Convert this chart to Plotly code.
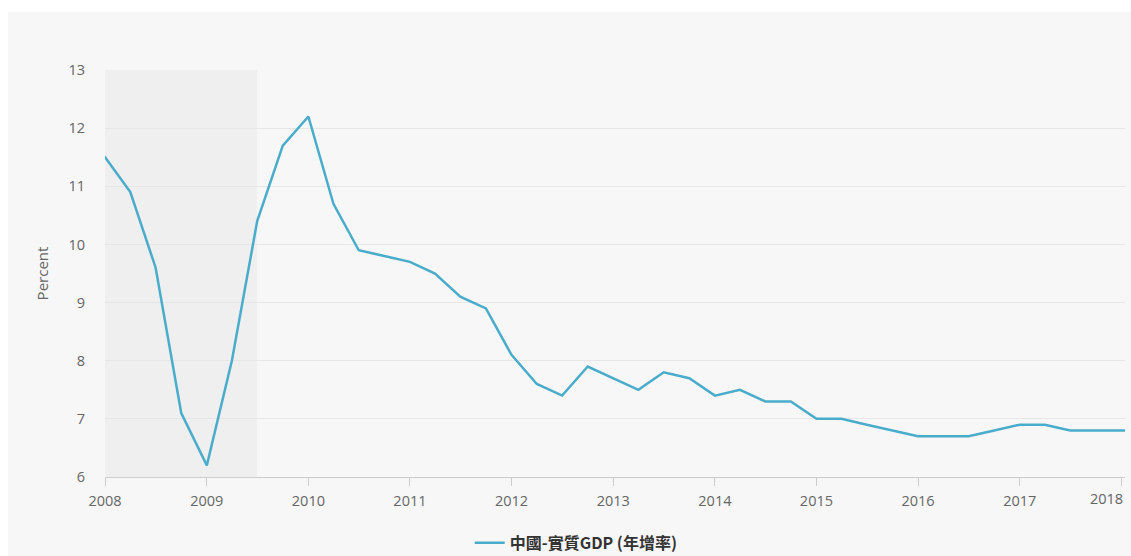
import plotly.graph_objects as go
import pandas as pd

quarter_start = "2007-10-01"
gdp_growth = [
    11.9,                    # 2007 Q4 (clipped at left edge)
    11.5, 10.9, 9.6, 7.1,    # 2008
    6.2, 8.0, 10.4, 11.7,    # 2009
    12.2, 10.7, 9.9, 9.8,    # 2010
    9.7, 9.5, 9.1, 8.9,      # 2011
    8.1, 7.6, 7.4, 7.9,      # 2012
    7.7, 7.5, 7.8, 7.7,      # 2013
    7.4, 7.5, 7.3, 7.3,      # 2014
    7.0, 7.0, 6.9, 6.8,      # 2015
    6.7, 6.7, 6.7, 6.8,      # 2016
    6.9, 6.9, 6.8, 6.8,      # 2017
    6.8, 6.8,                # 2018
]
dates = pd.date_range(quarter_start, periods=len(gdp_growth), freq="QS")

tick_years = list(range(2008, 2019))
tick_labels = [str(y) for y in tick_years]

series_name = "中國-實質GDP (年增率)"
y_title = "Percent"
recession_start = "2008-01-01"
recession_end = "2009-07-01"
x_range = ["2008-01-01", "2018-01-14"]
y_range = [6, 13]

tick_font = dict(size=14.5, color="#666666")

fig = go.Figure()
fig.add_trace(go.Scatter(
    x=dates, y=gdp_growth, mode="lines", name=series_name,
    line=dict(color="#4aaccb", width=2.5),
))

tickvals = [f"{y}-01-01" for y in tick_years]
# last label is drawn as an annotation, shifted inside the chart like the original
ticktext = tick_labels[:-1] + [""]

fig.update_layout(
    width=1131, height=556,
    margin=dict(l=105, r=6, t=70, b=79, autoexpand=False),
    paper_bgcolor="white",
    plot_bgcolor="rgba(0,0,0,0)",
    font=dict(family="Open Sans, Noto Sans CJK TC, sans-serif", color="#666666", size=14),
    showlegend=True,
    legend=dict(orientation="h", x=0.462, xanchor="center", y=-0.162, yanchor="middle",
                font=dict(size=16, color="#333333", family="Noto Sans CJK TC, sans-serif", weight="bold"),
                bgcolor="rgba(0,0,0,0)"),
    shapes=[
        dict(type="rect", xref="paper", yref="paper", x0=-0.0951, x1=1.01, y0=-0.2, y1=1.1425,
             fillcolor="#f7f7f7", line=dict(width=0), layer="below"),
        dict(type="rect", xref="x", yref="paper", x0=recession_start, x1=recession_end, y0=0, y1=1,
             fillcolor="rgba(0,0,0,0.03)", line=dict(width=0), layer="below"),
    ],
    annotations=[
        dict(text=tick_labels[-1], xref="paper", yref="paper", x=1.0, xanchor="right",
             y=0, yanchor="top", yshift=-10, showarrow=False, font=tick_font),
    ],
)

fig.update_xaxes(
    type="date", range=x_range, tickmode="array", tickvals=tickvals, ticktext=ticktext,
    showgrid=False, showline=True, linecolor="#cccccc", linewidth=1,
    ticks="outside", ticklen=8, tickcolor="#cccccc", tickfont=tick_font,
    ticklabelstandoff=3, zeroline=False,
)
fig.update_yaxes(
    range=y_range, dtick=1, showgrid=True, gridcolor="#e6e6e6", gridwidth=1,
    zeroline=False, showline=False, ticks="", ticklabelstandoff=19,
    tickfont=tick_font,
    title=dict(text=y_title, font=dict(size=15, color="#666666"), standoff=16),
)

fig.write_html("out.html")
